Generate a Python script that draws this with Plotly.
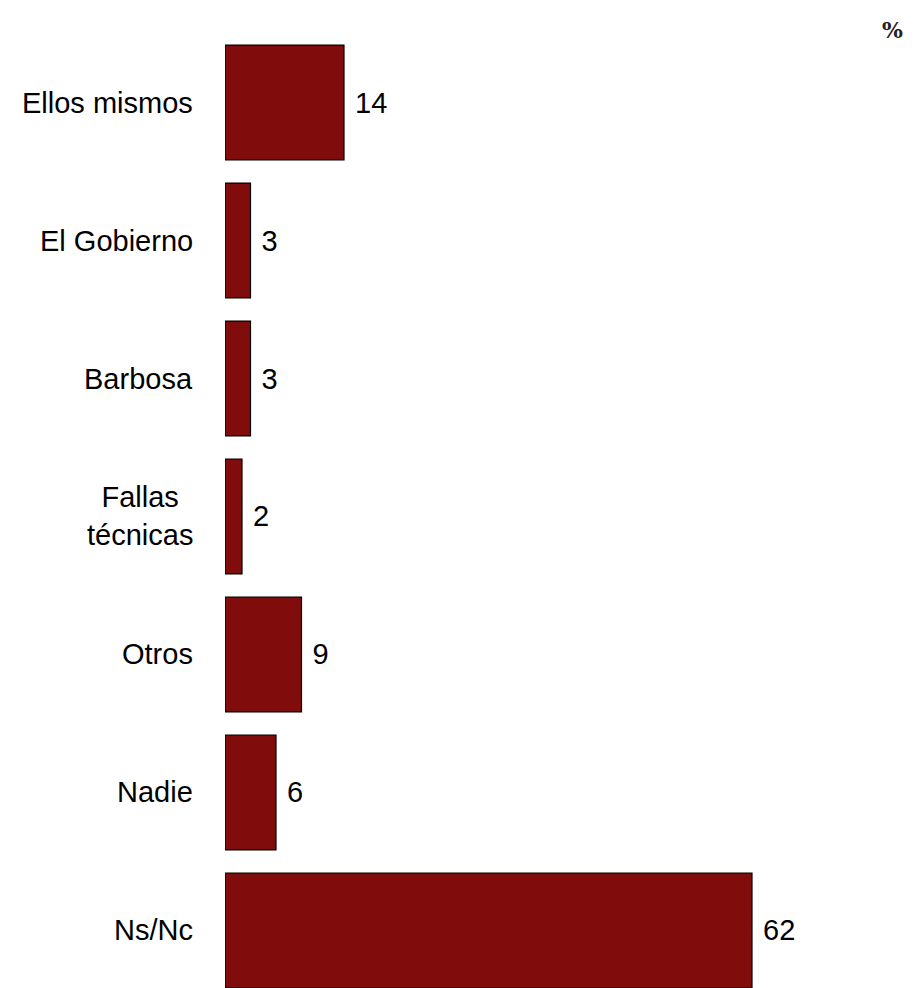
import plotly.graph_objects as go

categorias = ['Ellos mismos', 'El Gobierno', 'Barbosa', 'Fallas<br>técnicas', 'Otros', 'Nadie', 'Ns/Nc']
valores = [14, 3, 3, 2, 9, 6, 62]

FONT = 'Liberation Sans, Arial, sans-serif'

fig = go.Figure()
fig.add_trace(go.Bar(
    x=valores, y=categorias, orientation='h',
    marker=dict(color='#800c0c', line=dict(color='black', width=1.2)),
    text=['\u00a0' + str(v) for v in valores], textposition='outside',
    textfont=dict(family=FONT, size=29, color='black'),
    cliponaxis=False,
))

# etiquetas de categoria como anotaciones (centradas en varias lineas)
annots = []
for c in categorias:
    annots.append(dict(x=-0.044, xref='paper', y=c, yref='y', text=c, showarrow=False,
                       xanchor='right', align='center',
                       font=dict(family=FONT, size=29, color='black')))
annots.append(dict(x=1.0, xref='paper', y=0.9897, yref='paper', text='<b>%</b>', showarrow=False,
                   xanchor='right', yanchor='middle',
                   font=dict(family='DejaVu Serif, serif', size=22, color='#222')))

# la pagina tiene 8px de margen en body, por eso 910x980
fig.update_layout(
    width=910, height=980,
    margin=dict(l=217, r=13, t=12, b=0),
    paper_bgcolor='white', plot_bgcolor='white',
    bargap=0.167,
    showlegend=False,
    annotations=annots,
    xaxis=dict(range=[0, 80], visible=False),
    yaxis=dict(type='category', range=[6.417, -0.598], showticklabels=False,
               showgrid=False, zeroline=False, showline=False, ticks=''),
)

fig.write_html("out.html")
